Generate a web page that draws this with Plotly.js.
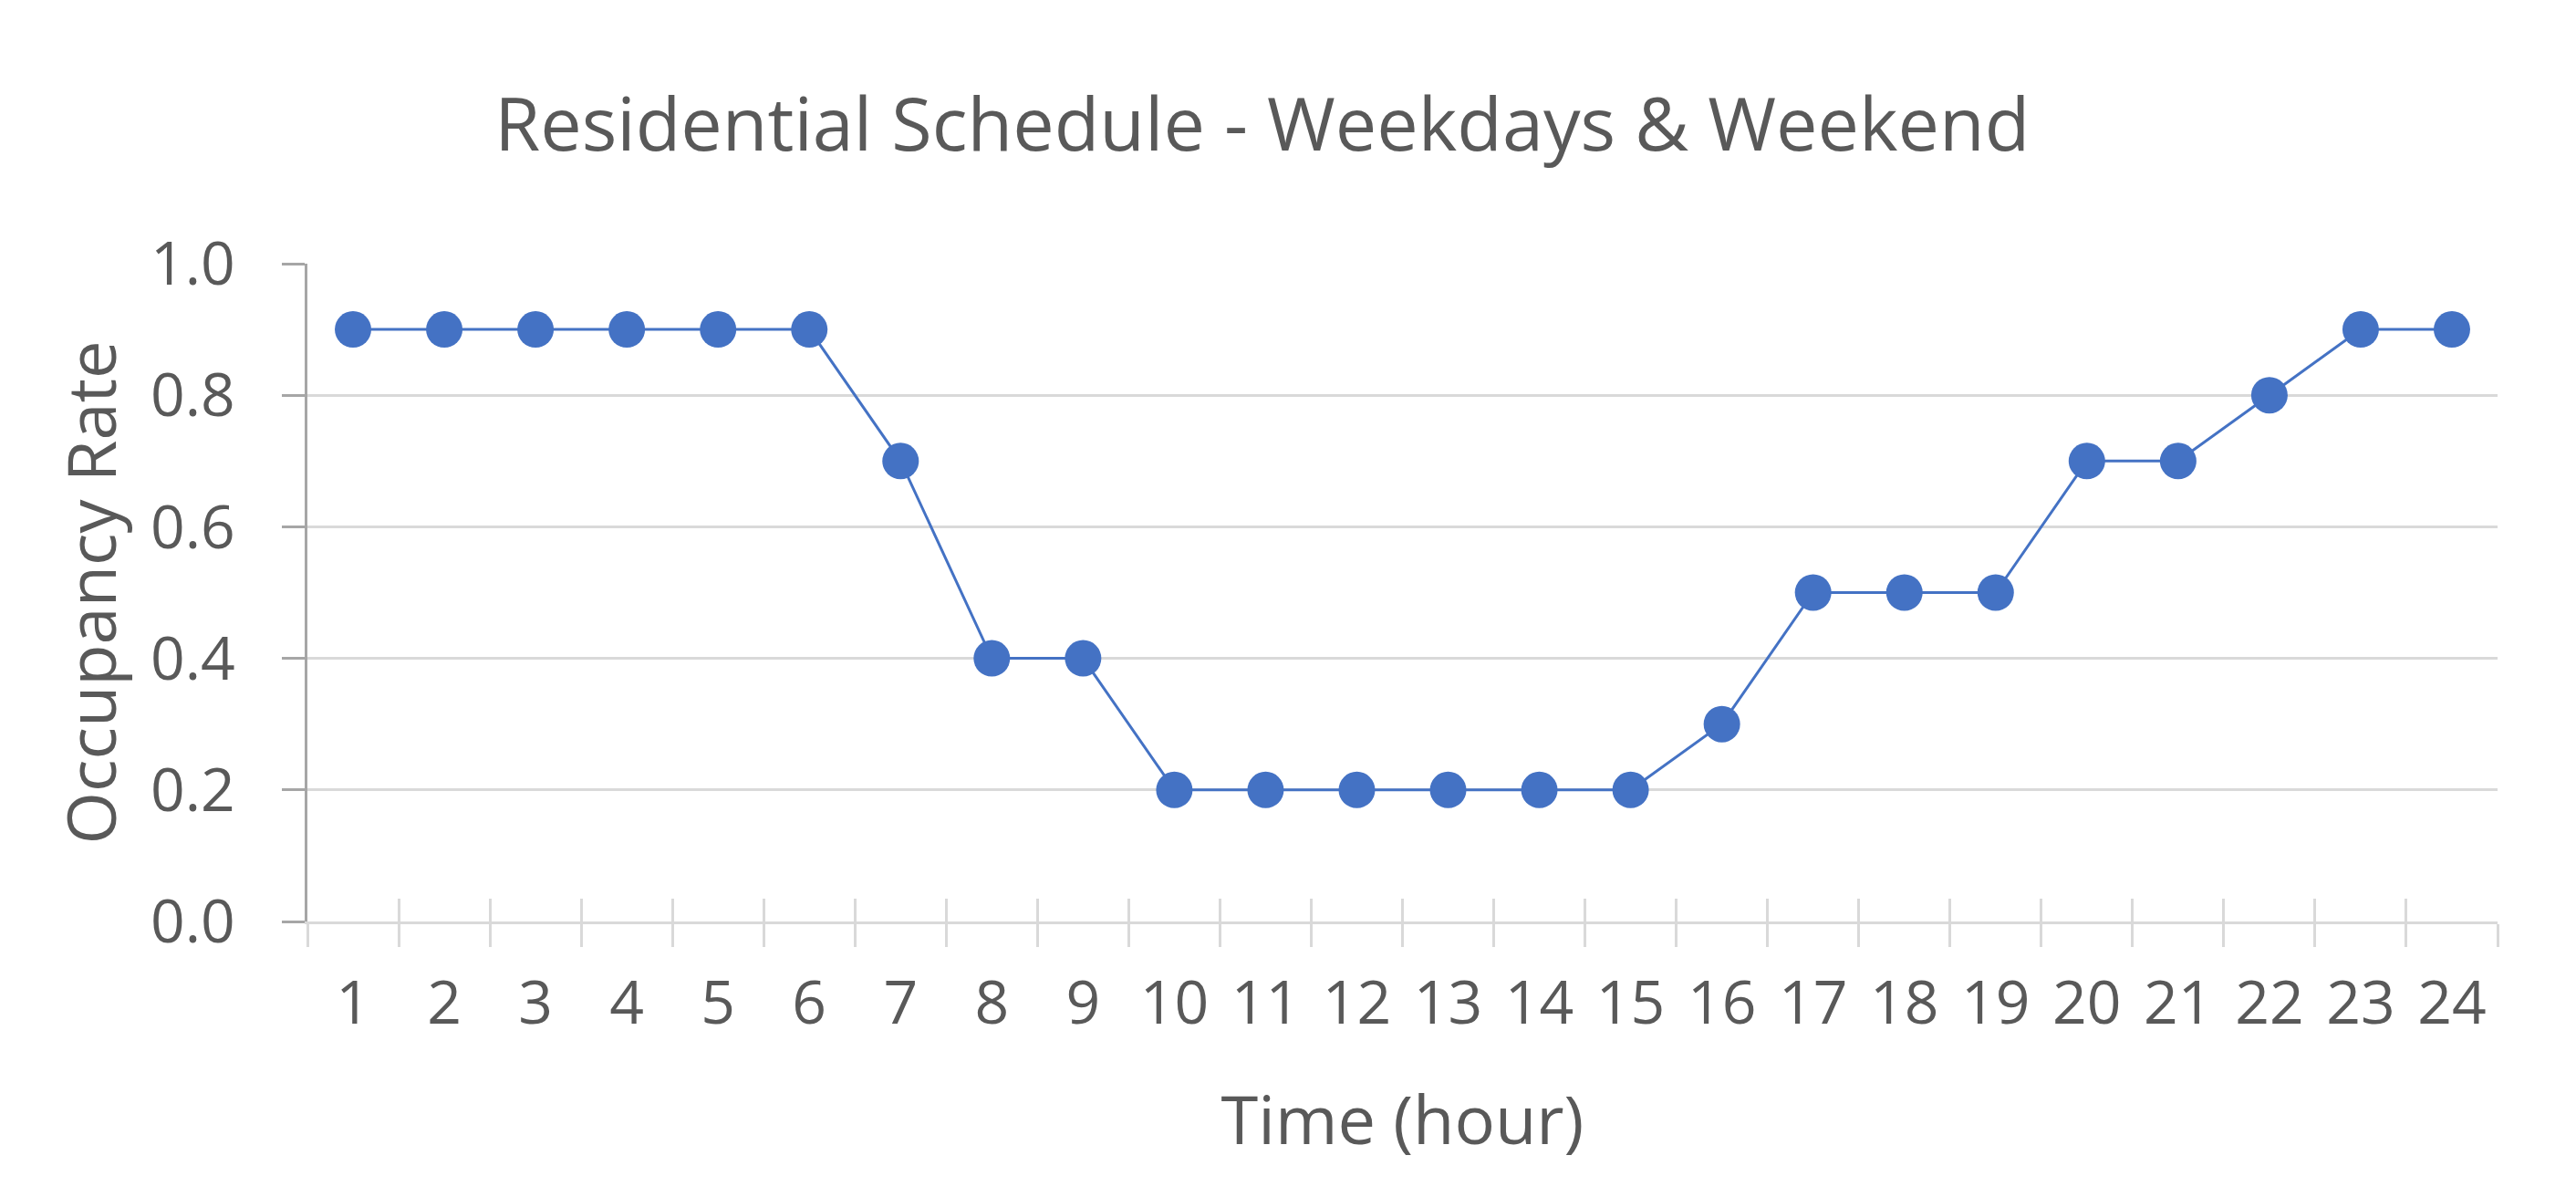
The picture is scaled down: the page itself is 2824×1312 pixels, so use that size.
<!DOCTYPE html>
<html>
<head>
<meta charset="utf-8">
<script src="https://cdn.plot.ly/plotly-3.0.1.min.js"></script>
<style>
  html, body { margin: 0; padding: 0; background: #ffffff; }
  #chart { width: 2824px; height: 1312px; }
</style>
</head>
<body>
<div id="chart"></div>
<script>
// ---- Data ----
const hours = [1,2,3,4,5,6,7,8,9,10,11,12,13,14,15,16,17,18,19,20,21,22,23,24];
const hourLabels = hours.map(String);
const occupancy = [0.9,0.9,0.9,0.9,0.9,0.9,0.7,0.4,0.4,0.2,0.2,0.2,0.2,0.2,0.2,0.3,0.5,0.5,0.5,0.7,0.7,0.8,0.9,0.9];
const yTicks = [0, 0.2, 0.4, 0.6, 0.8, 1.0];

const chartTitle = 'Residential Schedule - Weekdays & Weekend';
const xTitle = 'Time (hour)';
const yTitle = 'Occupancy Rate';

// ---- Style ----
const blue = '#4472C4';
const textColor = '#595959';
const gridColor = '#d9d9d9';
const axisColor = '#a6a6a6';
const font = 'Open Sans, Noto Sans, sans-serif';

const xRange = [hours[0] - 0.5, hours[hours.length - 1] + 0.5];

const traces = [
  {
    type: 'scatter',
    mode: 'lines+markers',
    x: hours,
    y: occupancy,
    line: { color: blue, width: 3 },
    marker: { color: blue, size: 40 },
    showlegend: false,
    hoverinfo: 'x+y'
  },
  {
    // carrier for the inward half of the crossing category tick marks
    type: 'scatter',
    mode: 'markers',
    x: hours,
    y: occupancy,
    xaxis: 'x2',
    marker: { opacity: 0, size: 1 },
    showlegend: false,
    hoverinfo: 'skip'
  }
];

const layout = {
  width: 2824,
  height: 1312,
  paper_bgcolor: '#ffffff',
  plot_bgcolor: '#ffffff',
  margin: { l: 337, r: 86, t: 289, b: 302 },
  font: { family: font, color: textColor },
  title: {
    text: chartTitle,
    font: { size: 81, color: textColor, family: font },
    xref: 'container',
    yref: 'container',
    x: 0.49,
    xanchor: 'center',
    y: 1 - 137 / 1312,
    yanchor: 'middle'
  },
  xaxis: {
    type: 'linear',
    range: xRange,
    tickmode: 'array',
    tickvals: hours,
    ticktext: hourLabels,
    ticks: '',
    tickfont: { size: 66, color: textColor, family: font },
    ticklabelstandoff: 30,
    showgrid: false,
    zeroline: false,
    showline: true,
    linecolor: gridColor,
    linewidth: 3,
    minor: {
      tickmode: 'linear',
      tick0: xRange[0],
      dtick: 1,
      ticks: 'outside',
      ticklen: 25,
      tickwidth: 3,
      tickcolor: gridColor,
      showgrid: false
    },
    automargin: true,
    title: {
      text: xTitle,
      font: { size: 74, color: textColor, family: font },
      standoff: 62
    },
    fixedrange: true
  },
  xaxis2: {
    type: 'linear',
    overlaying: 'x',
    anchor: 'y',
    side: 'bottom',
    range: xRange,
    tickmode: 'linear',
    tick0: xRange[0],
    dtick: 1,
    ticks: 'inside',
    ticklen: 25,
    tickwidth: 3,
    tickcolor: gridColor,
    showticklabels: false,
    showgrid: false,
    zeroline: false,
    showline: false,
    fixedrange: true
  },
  yaxis: {
    range: [0, 1],
    tickmode: 'array',
    tickvals: yTicks,
    tickformat: '.1f',
    ticks: 'outside',
    ticklen: 25,
    tickwidth: 3,
    tickcolor: axisColor,
    tickfont: { size: 66, color: textColor, family: font },
    ticklabelstandoff: 38,
    showgrid: true,
    gridcolor: gridColor,
    gridwidth: 3,
    zeroline: false,
    showline: true,
    linecolor: axisColor,
    linewidth: 3,
    automargin: true,
    title: {
      text: yTitle,
      font: { size: 74, color: textColor, family: font },
      standoff: 14
    },
    fixedrange: true
  }
};

Plotly.newPlot('chart', traces, layout, { displayModeBar: false, responsive: false, staticPlot: true });
</script>
</body>
</html>
